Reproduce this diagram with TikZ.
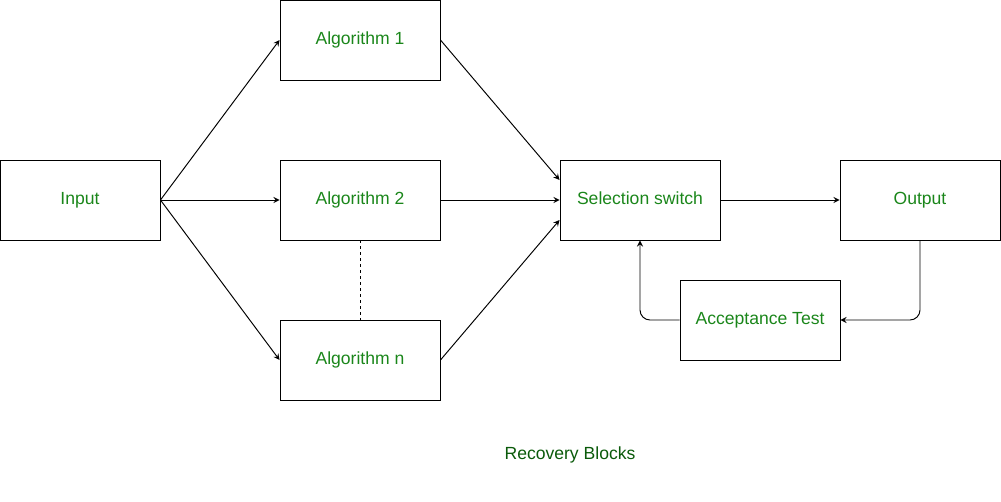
\documentclass[tikz,border=0pt]{standalone}
\usepackage{fontspec}
\setmainfont{Liberation Sans}
\usetikzlibrary{arrows}
\definecolor{txtgreen}{RGB}{26,134,26}
\definecolor{capgreen}{RGB}{10,90,10}

\begin{document}
\begin{tikzpicture}[x=0.02cm, y=-0.02cm, line width=0.55pt,
    blk/.style={draw, minimum width=3.2cm, minimum height=1.6cm, inner sep=0pt,
        text=txtgreen, font=\fontsize{10}{12}\selectfont,
        text height=0.72em, text depth=0.16em}]
        \useasboundingbox (0,0) rectangle (1001,501);

        \node[blk] (input) at (80,200) {Input};
        \node[blk] (alg1) at (360,40) {Algorithm 1};
        \node[blk] (alg2) at (360,200) {Algorithm 2};
        \node[blk] (algn) at (360,360) {Algorithm n};
        \node[blk] (sel) at (640,200) {Selection switch};
        \node[blk] (out) at (920,200) {Output};
        \node[blk] (acc) at (760,320) {Acceptance Test};

        \draw [-stealth] (input.east) -- (alg1.west);
        \draw [-stealth] (input.east) -- (alg2.west);
        \draw [-stealth] (input.east) -- (algn.west);

        \draw [-stealth] (alg1.east) -- ([yshift=0.4cm]sel.west);
        \draw [-stealth] (alg2.east) -- (sel.west);
        \draw [-stealth] (algn.east) -- ([yshift=-0.4cm]sel.west);
        \draw [dash pattern=on 1.7pt off 1.7pt] (alg2.south) -- (algn.north);

        \draw [-stealth] (sel.east) -- (out.west);
        \draw [-stealth, rounded corners=0.2cm] (out.south) |- (acc.east);
        \draw [-stealth, rounded corners=0.2cm] (acc.west) -| (sel.south);

        \node[text=capgreen, font=\fontsize{10}{12}\selectfont,
            text height=0.72em, text depth=0.16em] (caption) at (570,455) {Recovery Blocks};
    \end{tikzpicture}
\end{document}
